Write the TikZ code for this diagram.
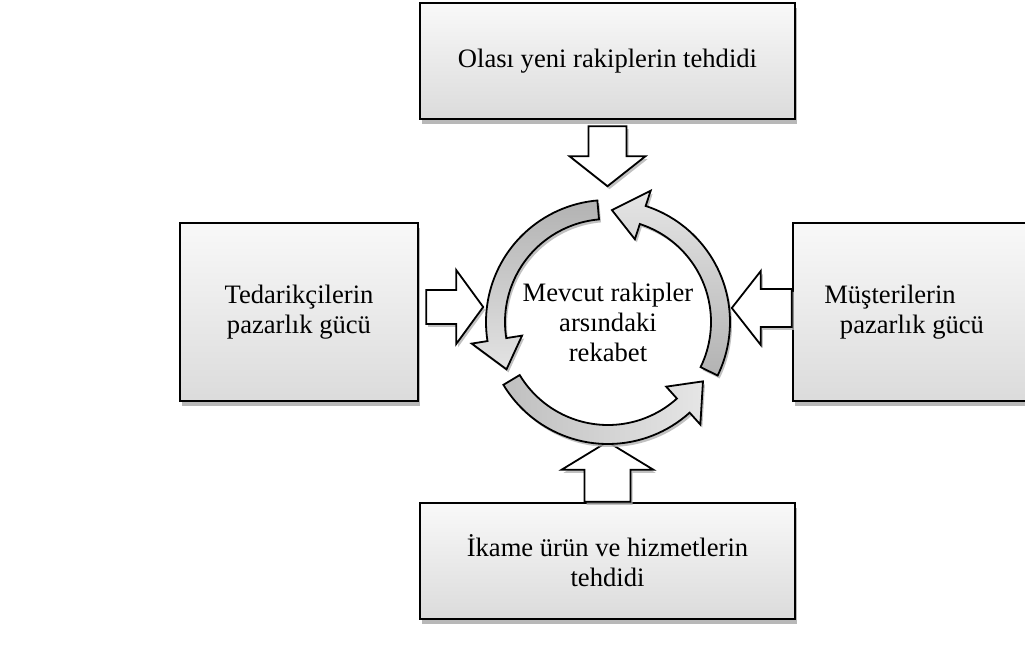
\documentclass[tikz,border=0pt]{standalone}
\usepackage{fontspec}
\setmainfont{Liberation Serif}
\usetikzlibrary{calc,shadows}

\begin{document}
\begin{tikzpicture}[x=0.5pt,y=0.5pt,
  forcebox/.style={draw=black, line width=1.2pt, top color=gray!5, bottom color=gray!28,
    drop shadow={shadow xshift=1pt, shadow yshift=-2.5pt, fill=gray!70, opacity=0.8},
    align=center, inner sep=0pt, font=\fontsize{13.3}{15}\selectfont},
  blockarrow/.style={draw=black, line width=0.9pt, fill=white,
    drop shadow={shadow xshift=1pt, shadow yshift=-1.5pt, fill=gray!60, opacity=0.8}},
  cyclearrow/.style={draw=black, line width=0.9pt,
    drop shadow={shadow xshift=1pt, shadow yshift=-1.5pt, fill=gray!60, opacity=0.8}}]
\useasboundingbox (0,0) rectangle (1025,644);
\node[forcebox, minimum width=187.5pt, minimum height=58pt] (newent) at (607.5,583) {Olası yeni rakiplerin tehdidi};
\node[forcebox, minimum width=119pt, minimum height=89pt] (supplier) at (299,332) {Tedarikçilerin\\pazarlık gücü};
\node[forcebox, minimum width=119pt, minimum height=89pt] (buyer) at (912,332) {Müşterilerin\hspace*{22pt}\\pazarlık gücü};
\node[forcebox, minimum width=187.5pt, minimum height=58pt] (subst) at (607.5,83) {İkame ürün ve hizmetlerin\\tehdidi};
\node[align=center, font=\fontsize{13.3}{15}\selectfont] (rivalry) at (608,322) {Mevcut rakipler\\arsındaki\\rekabet};
\draw[blockarrow] ($(newent.south)+(-19,-6)$) -- ++(0,-30) -- ++(-19,0) -- ++(38,-30) -- ++(38,30) -- ++(-19,0) -- ++(0,30) -- cycle;
\draw[blockarrow] ($(supplier.east)+(7,22)$) -- ++(30,0) -- ++(0,20) -- ++(27,-37) -- ++(-27,-37) -- ++(0,20) -- ++(-30,0) -- cycle;
\draw[blockarrow] ($(buyer.west)+(0,23)$) -- ++(-31,0) -- ++(0,18) -- ++(-29,-37) -- ++(29,-37) -- ++(0,18) -- ++(31,0) -- cycle;
\draw[blockarrow] ($(subst.north)+(-23,0)$) -- ++(0,32) -- ++(-23,0) -- ++(46,28) -- ++(46,-28) -- ++(-23,0) -- ++(0,-32) -- cycle;
\begin{scope}[shift={(rivalry.center)}]
\draw[cyclearrow, top color=gray!60, bottom color=gray!22] (95:122) arc[start angle=95, end angle=189, radius=122] -- (189:138) -- (205:112) -- (189:87) -- (189:103) arc[start angle=189, end angle=95, radius=103] -- cycle;
\draw[cyclearrow, left color=gray!50, right color=gray!20] (211:122) arc[start angle=211, end angle=312, radius=122] -- (312:138) -- (328:112) -- (312:87) -- (312:103) arc[start angle=312, end angle=211, radius=103] -- cycle;
\draw[cyclearrow, top color=gray!20, bottom color=gray!60] (334:122) arc[start angle=334, end angle=432, radius=122] -- (432:138) -- (448:112) -- (432:87) -- (432:103) arc[start angle=432, end angle=334, radius=103] -- cycle;
\end{scope}
\end{tikzpicture}
\end{document}
